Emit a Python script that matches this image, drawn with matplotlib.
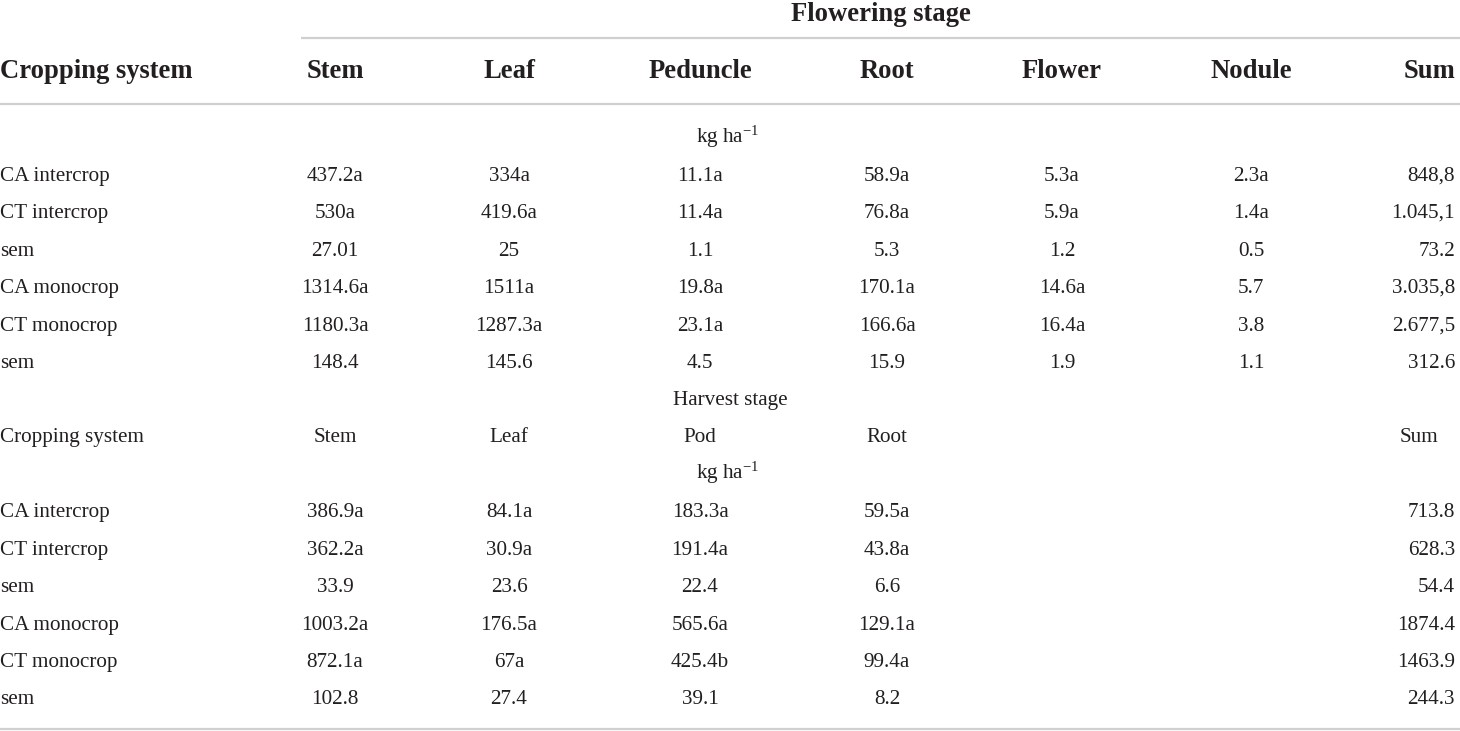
import matplotlib
matplotlib.use("Agg")
import matplotlib.pyplot as plt

plt.rcParams['font.family'] = ['Liberation Serif', 'DejaVu Serif']
plt.rcParams['mathtext.fontset'] = 'custom'
plt.rcParams['mathtext.rm'] = 'Liberation Serif'
plt.rcParams['mathtext.it'] = 'Liberation Serif:italic'

# ---- data ----
flower_title = "Flowering stage"
flower_cols = ["Stem", "Leaf", "Peduncle", "Root", "Flower", "Nodule", "Sum"]
flower_rows = ["CA intercrop", "CT intercrop", "sem", "CA monocrop", "CT monocrop", "sem"]
flower_stem = ["437.2a", "530a", "27.01", "1314.6a", "1180.3a", "148.4"]
flower_leaf = ["334a", "419.6a", "25", "1511a", "1287.3a", "145.6"]
flower_peduncle = ["11.1a", "11.4a", "1.1", "19.8a", "23.1a", "4.5"]
flower_root = ["58.9a", "76.8a", "5.3", "170.1a", "166.6a", "15.9"]
flower_flower = ["5.3a", "5.9a", "1.2", "14.6a", "16.4a", "1.9"]
flower_nodule = ["2.3a", "1.4a", "0.5", "5.7", "3.8", "1.1"]
flower_sum = ["848,8", "1.045,1", "73.2", "3.035,8", "2.677,5", "312.6"]

harvest_title = "Harvest stage"
harvest_cols = ["Stem", "Leaf", "Pod", "Root", "", "", "Sum"]
harvest_rows = ["CA intercrop", "CT intercrop", "sem", "CA monocrop", "CT monocrop", "sem"]
harvest_stem = ["386.9a", "362.2a", "33.9", "1003.2a", "872.1a", "102.8"]
harvest_leaf = ["84.1a", "30.9a", "23.6", "176.5a", "67a", "27.4"]
harvest_pod = ["183.3a", "191.4a", "22.4", "565.6a", "425.4b", "39.1"]
harvest_root = ["59.5a", "43.8a", "6.6", "129.1a", "99.4a", "8.2"]
harvest_sum = ["713.8", "628.3", "54.4", "1874.4", "1463.9", "244.3"]

row_label_head = "Cropping system"
unit_label = r"kg ha$^{-1}$"

# ---- layout ----
W, H = 1460, 731
fig = plt.figure(figsize=(W / 100, H / 100), dpi=100)
ax = fig.add_axes([0, 0, 1, 1])
ax.set_xlim(0, W)
ax.set_ylim(H, 0)
ax.axis('off')

col_x = [335, 509, 700, 887, 1062, 1251, 1455]
label_x = 0
body_fs = 15.2
head_fs = 19.2
line_color = '#d0d0d0'
txt_color = '#231f20'

def cell(x, y, s, ha='center', **kw):
    fs = kw.pop('fs', body_fs)
    ax.text(x, y, s, ha=ha, va='baseline', fontsize=fs, color=txt_color, **kw)

# header (y values are baselines in pixels)
cell(881, 21, flower_title, fs=head_fs, fontweight='bold')
ax.plot([301, W], [38, 38], color=line_color, lw=1.6, solid_capstyle='butt')
cell(label_x, 78, row_label_head, ha='left', fs=head_fs, fontweight='bold')
for i, c in enumerate(flower_cols):
    if i == len(flower_cols) - 1:
        cell(col_x[i], 78, c, ha='right', fs=head_fs, fontweight='bold')
    else:
        cell(col_x[i], 78, c, fs=head_fs, fontweight='bold')
ax.plot([0, W], [104, 104], color=line_color, lw=1.6, solid_capstyle='butt')

# flowering body
cell(728, 143, unit_label)
flower_data = [flower_stem, flower_leaf, flower_peduncle, flower_root,
               flower_flower, flower_nodule, flower_sum]
row_y1 = [181, 218, 256, 293, 331, 368]
for r, lab in enumerate(flower_rows):
    cell(label_x, row_y1[r], lab, ha='left')
    for c, col in enumerate(flower_data):
        if c == len(flower_data) - 1:
            cell(col_x[c], row_y1[r], col[r], ha='right')
        else:
            cell(col_x[c], row_y1[r], col[r])

# harvest section
cell(730, 405, harvest_title)
cell(label_x, 442, row_label_head, ha='left')
for i, c in enumerate(harvest_cols):
    if not c:
        continue
    if i == len(harvest_cols) - 1:
        cell(1419, 442, c)
    else:
        cell(col_x[i], 442, c)
cell(728, 479, unit_label)
harvest_data = [(0, harvest_stem), (1, harvest_leaf), (2, harvest_pod),
                (3, harvest_root), (6, harvest_sum)]
row_y2 = [517, 555, 592, 630, 667, 704]
for r, lab in enumerate(harvest_rows):
    cell(label_x, row_y2[r], lab, ha='left')
    for c, col in harvest_data:
        if c == 6:
            cell(col_x[c], row_y2[r], col[r], ha='right')
        else:
            cell(col_x[c], row_y2[r], col[r])

ax.plot([0, W], [729, 729], color=line_color, lw=1.6, solid_capstyle='butt')

fig.savefig("out.png", dpi=100)
